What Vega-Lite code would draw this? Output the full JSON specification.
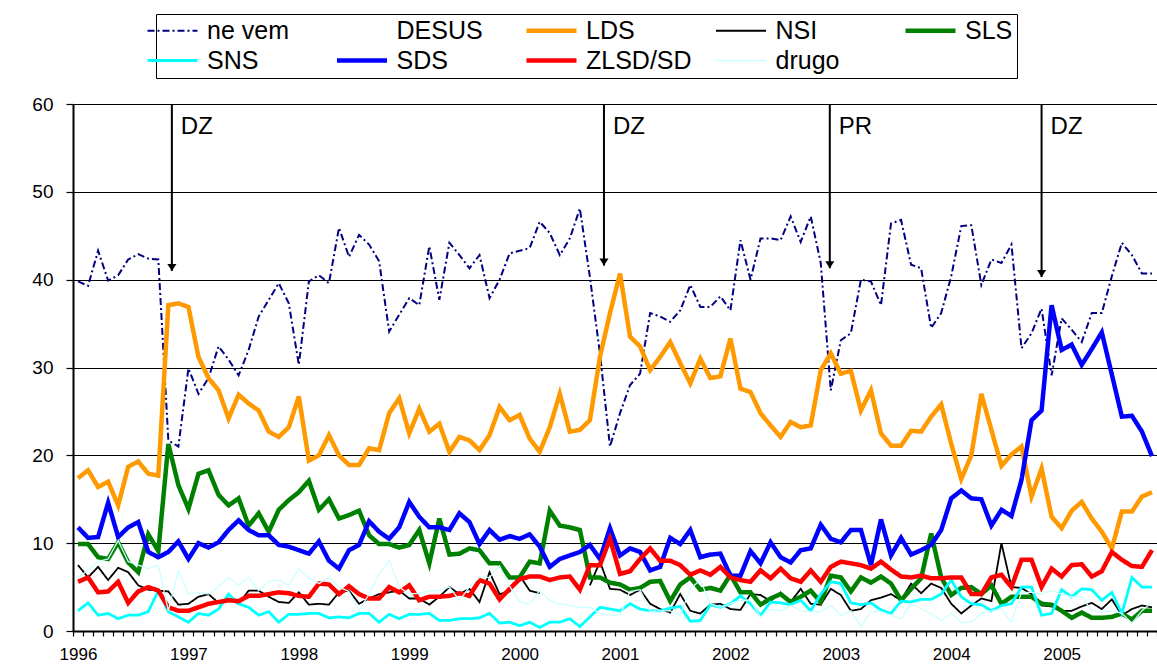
{
  "$schema": "https://vega.github.io/schema/vega-lite/v6.json",
  "width": 1084,
  "height": 527,
  "autosize": "none",
  "padding": {"left": 73, "top": 104, "right": 0, "bottom": 39},
  "background": "white",
  "config": {"font": "Liberation Sans", "view": {"stroke": null}},
  "datasets": {
    "polls": [
      {"i":0,"ne vem":39.8,"LDS":17.4,"NSI":7.5,"SLS":9.9,"SNS":2.3,"SDS":11.8,"ZLSD/SD":5.6,"drugo":6.1},
      {"i":1,"ne vem":39.3,"LDS":18.3,"NSI":6.1,"SLS":9.9,"SNS":3.2,"SDS":10.6,"ZLSD/SD":6.1,"drugo":6.9},
      {"i":2,"ne vem":43.3,"LDS":16.4,"NSI":7.3,"SLS":8.4,"SNS":1.8,"SDS":10.7,"ZLSD/SD":4.4,"drugo":7.9},
      {"i":3,"ne vem":39.9,"LDS":17.0,"NSI":5.8,"SLS":8.2,"SNS":2.0,"SDS":14.6,"ZLSD/SD":4.5,"drugo":8.2},
      {"i":4,"ne vem":40.5,"LDS":14.3,"NSI":7.2,"SLS":10.1,"SNS":1.4,"SDS":10.7,"ZLSD/SD":5.6,"drugo":10.3},
      {"i":5,"ne vem":42.3,"LDS":18.7,"NSI":6.7,"SLS":7.8,"SNS":1.8,"SDS":11.8,"ZLSD/SD":3.2,"drugo":7.9},
      {"i":6,"ne vem":42.9,"LDS":19.3,"NSI":5.2,"SLS":6.7,"SNS":1.8,"SDS":12.4,"ZLSD/SD":4.5,"drugo":7.5},
      {"i":7,"ne vem":42.4,"LDS":17.9,"NSI":4.7,"SLS":11.0,"SNS":2.2,"SDS":9.0,"ZLSD/SD":5.0,"drugo":7.1},
      {"i":8,"ne vem":42.3,"LDS":17.7,"NSI":4.6,"SLS":9.1,"SNS":4.6,"SDS":8.4,"ZLSD/SD":4.6,"drugo":7.5},
      {"i":9,"ne vem":21.7,"LDS":37.1,"NSI":4.5,"SLS":21.3,"SNS":2.2,"SDS":9.0,"ZLSD/SD":2.7,"drugo":2.3},
      {"i":10,"ne vem":21.0,"LDS":37.3,"NSI":3.0,"SLS":16.6,"SNS":1.6,"SDS":10.2,"ZLSD/SD":2.3,"drugo":6.9},
      {"i":11,"ne vem":29.9,"LDS":36.9,"NSI":3.1,"SLS":13.9,"SNS":1.0,"SDS":8.2,"ZLSD/SD":2.3,"drugo":4.2},
      {"i":12,"ne vem":27.0,"LDS":31.2,"NSI":3.9,"SLS":17.9,"SNS":2.0,"SDS":10.0,"ZLSD/SD":2.7,"drugo":4.4},
      {"i":13,"ne vem":28.8,"LDS":28.8,"NSI":4.2,"SLS":18.3,"SNS":1.8,"SDS":9.5,"ZLSD/SD":3.1,"drugo":4.2},
      {"i":14,"ne vem":32.4,"LDS":27.4,"NSI":3.2,"SLS":15.5,"SNS":2.5,"SDS":10.1,"ZLSD/SD":3.3,"drugo":5.0},
      {"i":15,"ne vem":30.9,"LDS":24.2,"NSI":3.7,"SLS":14.3,"SNS":4.2,"SDS":11.5,"ZLSD/SD":3.5,"drugo":6.1},
      {"i":16,"ne vem":29.1,"LDS":26.9,"NSI":3.1,"SLS":15.1,"SNS":3.1,"SDS":12.6,"ZLSD/SD":3.4,"drugo":5.2},
      {"i":17,"ne vem":32.0,"LDS":25.9,"NSI":4.6,"SLS":12.0,"SNS":2.7,"SDS":11.5,"ZLSD/SD":4.0,"drugo":6.1},
      {"i":18,"ne vem":35.8,"LDS":25.1,"NSI":4.6,"SLS":13.4,"SNS":1.8,"SDS":10.9,"ZLSD/SD":4.0,"drugo":4.6},
      {"i":19,"ne vem":37.7,"LDS":22.7,"NSI":3.9,"SLS":11.3,"SNS":2.2,"SDS":10.9,"ZLSD/SD":4.2,"drugo":5.6},
      {"i":20,"ne vem":39.6,"LDS":22.1,"NSI":3.3,"SLS":13.8,"SNS":1.0,"SDS":9.8,"ZLSD/SD":4.4,"drugo":5.8},
      {"i":21,"ne vem":37.3,"LDS":23.2,"NSI":3.2,"SLS":14.9,"SNS":1.9,"SDS":9.6,"ZLSD/SD":4.3,"drugo":5.2},
      {"i":22,"ne vem":30.3,"LDS":26.7,"NSI":4.4,"SLS":15.8,"SNS":1.9,"SDS":9.2,"ZLSD/SD":4.0,"drugo":7.1},
      {"i":23,"ne vem":39.8,"LDS":19.4,"NSI":3.0,"SLS":17.1,"SNS":2.0,"SDS":8.8,"ZLSD/SD":3.9,"drugo":6.0},
      {"i":24,"ne vem":40.5,"LDS":20.0,"NSI":3.1,"SLS":13.8,"SNS":2.0,"SDS":10.2,"ZLSD/SD":5.4,"drugo":5.4},
      {"i":25,"ne vem":39.6,"LDS":22.3,"NSI":3.0,"SLS":15.0,"SNS":1.5,"SDS":8.0,"ZLSD/SD":5.3,"drugo":6.1},
      {"i":26,"ne vem":45.9,"LDS":20.0,"NSI":4.4,"SLS":12.8,"SNS":1.6,"SDS":7.1,"ZLSD/SD":4.2,"drugo":5.0},
      {"i":27,"ne vem":42.6,"LDS":18.9,"NSI":4.6,"SLS":13.2,"SNS":1.5,"SDS":9.2,"ZLSD/SD":5.1,"drugo":4.5},
      {"i":28,"ne vem":45.1,"LDS":18.9,"NSI":3.1,"SLS":13.7,"SNS":2.0,"SDS":9.8,"ZLSD/SD":4.2,"drugo":2.3},
      {"i":29,"ne vem":44.0,"LDS":20.8,"NSI":3.7,"SLS":10.9,"SNS":2.0,"SDS":12.5,"ZLSD/SD":3.7,"drugo":4.2},
      {"i":30,"ne vem":42.1,"LDS":20.6,"NSI":4.2,"SLS":9.9,"SNS":1.0,"SDS":11.3,"ZLSD/SD":3.7,"drugo":6.5},
      {"i":31,"ne vem":34.1,"LDS":24.8,"NSI":4.4,"SLS":9.9,"SNS":1.9,"SDS":10.5,"ZLSD/SD":5.0,"drugo":8.0},
      {"i":32,"ne vem":36.0,"LDS":26.5,"NSI":4.6,"SLS":9.5,"SNS":1.4,"SDS":11.8,"ZLSD/SD":4.4,"drugo":5.0},
      {"i":33,"ne vem":37.9,"LDS":22.5,"NSI":3.7,"SLS":9.8,"SNS":1.9,"SDS":14.7,"ZLSD/SD":5.2,"drugo":4.2},
      {"i":34,"ne vem":37.1,"LDS":25.3,"NSI":3.7,"SLS":11.5,"SNS":1.9,"SDS":13.0,"ZLSD/SD":3.5,"drugo":4.3},
      {"i":35,"ne vem":43.8,"LDS":22.7,"NSI":3.0,"SLS":7.7,"SNS":2.0,"SDS":11.8,"ZLSD/SD":3.9,"drugo":4.6},
      {"i":36,"ne vem":37.7,"LDS":23.6,"NSI":3.9,"SLS":12.8,"SNS":1.2,"SDS":11.8,"ZLSD/SD":3.9,"drugo":4.6},
      {"i":37,"ne vem":44.2,"LDS":20.4,"NSI":5.0,"SLS":8.7,"SNS":1.2,"SDS":11.5,"ZLSD/SD":4.0,"drugo":5.0},
      {"i":38,"ne vem":42.8,"LDS":22.1,"NSI":4.2,"SLS":8.8,"SNS":1.4,"SDS":13.4,"ZLSD/SD":4.3,"drugo":3.5},
      {"i":39,"ne vem":41.3,"LDS":21.7,"NSI":4.8,"SLS":9.4,"SNS":1.4,"SDS":12.4,"ZLSD/SD":4.0,"drugo":5.0},
      {"i":40,"ne vem":42.8,"LDS":20.6,"NSI":3.3,"SLS":9.2,"SNS":1.5,"SDS":9.9,"ZLSD/SD":5.8,"drugo":6.1},
      {"i":41,"ne vem":37.9,"LDS":22.3,"NSI":6.7,"SLS":7.7,"SNS":2.0,"SDS":11.5,"ZLSD/SD":5.4,"drugo":6.1},
      {"i":42,"ne vem":40.0,"LDS":25.5,"NSI":4.2,"SLS":7.7,"SNS":0.9,"SDS":10.4,"ZLSD/SD":3.6,"drugo":7.4},
      {"i":43,"ne vem":43.0,"LDS":24.0,"NSI":4.5,"SLS":6.1,"SNS":1.0,"SDS":10.8,"ZLSD/SD":4.8,"drugo":5.1},
      {"i":44,"ne vem":43.3,"LDS":24.6,"NSI":6.3,"SLS":6.1,"SNS":0.6,"SDS":10.5,"ZLSD/SD":5.9,"drugo":3.3},
      {"i":45,"ne vem":43.6,"LDS":21.9,"NSI":4.6,"SLS":7.9,"SNS":1.0,"SDS":11.0,"ZLSD/SD":6.2,"drugo":3.1},
      {"i":46,"ne vem":46.6,"LDS":20.4,"NSI":4.3,"SLS":7.7,"SNS":0.4,"SDS":9.6,"ZLSD/SD":6.2,"drugo":4.6},
      {"i":47,"ne vem":45.3,"LDS":23.2,"NSI":null,"SLS":13.7,"SNS":1.0,"SDS":7.3,"ZLSD/SD":5.8,"drugo":3.5},
      {"i":48,"ne vem":42.8,"LDS":27.0,"NSI":null,"SLS":12.0,"SNS":1.0,"SDS":8.2,"ZLSD/SD":6.1,"drugo":3.1},
      {"i":49,"ne vem":44.7,"LDS":22.7,"NSI":null,"SLS":11.8,"SNS":1.4,"SDS":8.6,"ZLSD/SD":6.2,"drugo":2.9},
      {"i":50,"ne vem":48.1,"LDS":22.9,"NSI":null,"SLS":11.5,"SNS":0.5,"SDS":9.0,"ZLSD/SD":4.7,"drugo":2.7},
      {"i":51,"ne vem":40.3,"LDS":24.0,"NSI":5.2,"SLS":6.1,"SNS":1.6,"SDS":9.8,"ZLSD/SD":7.5,"drugo":2.7},
      {"i":52,"ne vem":31.6,"LDS":31.2,"NSI":7.9,"SLS":6.1,"SNS":2.7,"SDS":8.2,"ZLSD/SD":7.5,"drugo":2.0},
      {"i":53,"ne vem":21.0,"LDS":36.2,"NSI":4.8,"SLS":5.5,"SNS":2.5,"SDS":11.7,"ZLSD/SD":10.5,"drugo":1.8},
      {"i":54,"ne vem":24.8,"LDS":40.7,"NSI":4.7,"SLS":5.3,"SNS":2.3,"SDS":8.6,"ZLSD/SD":6.5,"drugo":1.8},
      {"i":55,"ne vem":28.0,"LDS":33.5,"NSI":4.1,"SLS":4.7,"SNS":3.1,"SDS":9.4,"ZLSD/SD":6.8,"drugo":4.5},
      {"i":56,"ne vem":29.3,"LDS":32.4,"NSI":4.7,"SLS":4.9,"SNS":2.5,"SDS":9.0,"ZLSD/SD":8.2,"drugo":4.7},
      {"i":57,"ne vem":36.2,"LDS":29.7,"NSI":3.1,"SLS":5.6,"SNS":2.3,"SDS":6.9,"ZLSD/SD":9.4,"drugo":2.2},
      {"i":58,"ne vem":35.8,"LDS":31.2,"NSI":2.5,"SLS":5.7,"SNS":2.3,"SDS":7.3,"ZLSD/SD":8.0,"drugo":2.3},
      {"i":59,"ne vem":35.2,"LDS":32.9,"NSI":2.1,"SLS":3.4,"SNS":2.6,"SDS":10.6,"ZLSD/SD":8.0,"drugo":2.3},
      {"i":60,"ne vem":36.5,"LDS":30.5,"NSI":4.2,"SLS":5.3,"SNS":2.8,"SDS":9.9,"ZLSD/SD":7.5,"drugo":1.8},
      {"i":61,"ne vem":39.4,"LDS":28.2,"NSI":2.3,"SLS":6.1,"SNS":1.1,"SDS":11.5,"ZLSD/SD":6.4,"drugo":4.8},
      {"i":62,"ne vem":36.9,"LDS":31.0,"NSI":2.0,"SLS":4.7,"SNS":1.2,"SDS":8.4,"ZLSD/SD":6.9,"drugo":5.8},
      {"i":63,"ne vem":36.9,"LDS":28.8,"NSI":3.0,"SLS":4.9,"SNS":3.0,"SDS":8.7,"ZLSD/SD":6.4,"drugo":3.1},
      {"i":64,"ne vem":38.1,"LDS":29.0,"NSI":3.1,"SLS":4.6,"SNS":2.7,"SDS":8.8,"ZLSD/SD":7.3,"drugo":2.7},
      {"i":65,"ne vem":36.5,"LDS":33.3,"NSI":2.5,"SLS":6.4,"SNS":3.1,"SDS":6.3,"ZLSD/SD":6.1,"drugo":3.1},
      {"i":66,"ne vem":44.5,"LDS":27.6,"NSI":2.4,"SLS":4.4,"SNS":4.0,"SDS":6.3,"ZLSD/SD":5.8,"drugo":3.5},
      {"i":67,"ne vem":40.0,"LDS":27.2,"NSI":4.2,"SLS":4.4,"SNS":3.1,"SDS":9.1,"ZLSD/SD":5.6,"drugo":3.5},
      {"i":68,"ne vem":44.7,"LDS":24.8,"NSI":4.1,"SLS":3.0,"SNS":1.8,"SDS":7.7,"ZLSD/SD":6.9,"drugo":1.6},
      {"i":69,"ne vem":44.7,"LDS":23.4,"NSI":3.4,"SLS":3.7,"SNS":3.3,"SDS":10.1,"ZLSD/SD":6.0,"drugo":2.5},
      {"i":70,"ne vem":44.5,"LDS":22.1,"NSI":4.4,"SLS":4.2,"SNS":3.2,"SDS":8.4,"ZLSD/SD":7.1,"drugo":2.3},
      {"i":71,"ne vem":47.2,"LDS":23.8,"NSI":3.3,"SLS":3.3,"SNS":3.0,"SDS":7.8,"ZLSD/SD":6.0,"drugo":2.9},
      {"i":72,"ne vem":44.3,"LDS":23.2,"NSI":4.8,"SLS":3.9,"SNS":3.5,"SDS":9.2,"ZLSD/SD":5.6,"drugo":2.3},
      {"i":73,"ne vem":47.2,"LDS":23.4,"NSI":3.1,"SLS":4.6,"SNS":2.3,"SDS":9.4,"ZLSD/SD":6.9,"drugo":2.2},
      {"i":74,"ne vem":41.9,"LDS":29.7,"NSI":3.0,"SLS":3.3,"SNS":4.2,"SDS":12.1,"ZLSD/SD":5.6,"drugo":2.2},
      {"i":75,"ne vem":27.4,"LDS":31.6,"NSI":4.8,"SLS":6.3,"SNS":5.6,"SDS":10.5,"ZLSD/SD":7.3,"drugo":2.9},
      {"i":76,"ne vem":33.1,"LDS":29.3,"NSI":4.1,"SLS":6.1,"SNS":5.4,"SDS":10.1,"ZLSD/SD":7.9,"drugo":1.8},
      {"i":77,"ne vem":33.9,"LDS":29.6,"NSI":2.3,"SLS":4.5,"SNS":3.2,"SDS":11.5,"ZLSD/SD":7.7,"drugo":2.3},
      {"i":78,"ne vem":40.0,"LDS":25.1,"NSI":2.5,"SLS":6.1,"SNS":3.0,"SDS":11.5,"ZLSD/SD":7.5,"drugo":0.5},
      {"i":79,"ne vem":39.8,"LDS":27.4,"NSI":3.5,"SLS":5.5,"SNS":3.2,"SDS":7.5,"ZLSD/SD":7.1,"drugo":2.2},
      {"i":80,"ne vem":37.1,"LDS":22.5,"NSI":3.8,"SLS":6.2,"SNS":2.4,"SDS":12.7,"ZLSD/SD":7.9,"drugo":2.2},
      {"i":81,"ne vem":46.4,"LDS":21.1,"NSI":4.2,"SLS":5.4,"SNS":2.0,"SDS":8.6,"ZLSD/SD":7.0,"drugo":1.8},
      {"i":82,"ne vem":46.8,"LDS":21.1,"NSI":3.5,"SLS":3.5,"SNS":3.4,"SDS":10.6,"ZLSD/SD":6.2,"drugo":1.4},
      {"i":83,"ne vem":41.7,"LDS":22.8,"NSI":5.4,"SLS":4.8,"SNS":3.3,"SDS":8.7,"ZLSD/SD":6.1,"drugo":3.1},
      {"i":84,"ne vem":41.3,"LDS":22.7,"NSI":4.3,"SLS":6.0,"SNS":3.6,"SDS":9.2,"ZLSD/SD":6.3,"drugo":2.5},
      {"i":85,"ne vem":34.5,"LDS":24.4,"NSI":5.4,"SLS":11.1,"SNS":3.6,"SDS":9.8,"ZLSD/SD":6.0,"drugo":2.0},
      {"i":86,"ne vem":36.2,"LDS":25.8,"NSI":4.9,"SLS":6.1,"SNS":4.2,"SDS":11.5,"ZLSD/SD":6.0,"drugo":1.2},
      {"i":87,"ne vem":40.4,"LDS":21.3,"NSI":3.1,"SLS":4.1,"SNS":5.8,"SDS":15.1,"ZLSD/SD":6.1,"drugo":2.0},
      {"i":88,"ne vem":46.1,"LDS":17.3,"NSI":2.0,"SLS":4.9,"SNS":3.9,"SDS":16.0,"ZLSD/SD":6.1,"drugo":1.0},
      {"i":89,"ne vem":46.2,"LDS":20.0,"NSI":2.9,"SLS":5.0,"SNS":3.1,"SDS":15.1,"ZLSD/SD":4.2,"drugo":1.0},
      {"i":90,"ne vem":39.4,"LDS":27.0,"NSI":3.7,"SLS":4.2,"SNS":3.0,"SDS":15.0,"ZLSD/SD":4.2,"drugo":2.0},
      {"i":91,"ne vem":42.3,"LDS":22.9,"NSI":3.4,"SLS":5.2,"SNS":2.3,"SDS":12.0,"ZLSD/SD":6.1,"drugo":2.3},
      {"i":92,"ne vem":41.9,"LDS":18.8,"NSI":10.0,"SLS":3.1,"SNS":2.9,"SDS":13.8,"ZLSD/SD":6.4,"drugo":2.5},
      {"i":93,"ne vem":44.0,"LDS":20.1,"NSI":5.0,"SLS":3.9,"SNS":3.1,"SDS":13.1,"ZLSD/SD":5.0,"drugo":1.0},
      {"i":94,"ne vem":32.2,"LDS":21.0,"NSI":4.9,"SLS":3.9,"SNS":5.0,"SDS":17.2,"ZLSD/SD":8.1,"drugo":4.4},
      {"i":95,"ne vem":33.9,"LDS":15.3,"NSI":4.2,"SLS":3.9,"SNS":5.0,"SDS":24.0,"ZLSD/SD":8.1,"drugo":4.4},
      {"i":96,"ne vem":36.7,"LDS":18.5,"NSI":2.9,"SLS":3.1,"SNS":1.8,"SDS":25.1,"ZLSD/SD":5.0,"drugo":4.2},
      {"i":97,"ne vem":29.1,"LDS":13.0,"NSI":2.8,"SLS":3.0,"SNS":2.0,"SDS":37.1,"ZLSD/SD":7.1,"drugo":4.6},
      {"i":98,"ne vem":35.6,"LDS":11.7,"NSI":2.3,"SLS":2.3,"SNS":4.7,"SDS":32.0,"ZLSD/SD":6.2,"drugo":4.2},
      {"i":99,"ne vem":34.3,"LDS":13.7,"NSI":2.3,"SLS":1.5,"SNS":3.9,"SDS":32.6,"ZLSD/SD":7.5,"drugo":3.9},
      {"i":100,"ne vem":32.9,"LDS":14.7,"NSI":2.8,"SLS":2.1,"SNS":4.8,"SDS":30.3,"ZLSD/SD":7.6,"drugo":3.9},
      {"i":101,"ne vem":36.2,"LDS":12.8,"NSI":3.2,"SLS":1.5,"SNS":4.7,"SDS":32.1,"ZLSD/SD":6.2,"drugo":2.3},
      {"i":102,"ne vem":36.2,"LDS":11.3,"NSI":2.5,"SLS":1.5,"SNS":3.5,"SDS":34.0,"ZLSD/SD":6.8,"drugo":2.1},
      {"i":103,"ne vem":40.4,"LDS":9.4,"NSI":3.6,"SLS":1.6,"SNS":4.4,"SDS":29.2,"ZLSD/SD":9.0,"drugo":2.3},
      {"i":104,"ne vem":44.2,"LDS":13.6,"NSI":1.8,"SLS":2.0,"SNS":2.0,"SDS":24.4,"ZLSD/SD":8.1,"drugo":2.0},
      {"i":105,"ne vem":42.8,"LDS":13.6,"NSI":2.5,"SLS":1.3,"SNS":6.1,"SDS":24.5,"ZLSD/SD":7.4,"drugo":0.9},
      {"i":106,"ne vem":40.7,"LDS":15.3,"NSI":2.9,"SLS":2.3,"SNS":5.0,"SDS":22.7,"ZLSD/SD":7.3,"drugo":2.3},
      {"i":107,"ne vem":40.7,"LDS":15.8,"NSI":2.7,"SLS":2.3,"SNS":5.0,"SDS":19.9,"ZLSD/SD":9.2,"drugo":3.3}
    ],
    "events": [
      {"a": 9.35, "tip": 41.0, "label": "DZ"},
      {"a": 52.4, "tip": 41.6, "label": "DZ"},
      {"a": 74.9, "tip": 41.3, "label": "PR"},
      {"a": 96.0, "tip": 40.3, "label": "DZ"}
    ]
  },
  "layer": [
    {
      "data": {"name": "polls"},
      "transform": [{"fold": ["ne vem", "LDS", "NSI", "SLS", "SNS", "SDS", "ZLSD/SD", "drugo"], "as": ["s", "v"]}],
      "mark": {
        "type": "line",
        "clip": true,
        "strokeWidth": {"expr": "indexof(['LDS','SLS','SDS','ZLSD/SD'], datum.s) >= 0 ? 4.5 : datum.s == 'SNS' ? 2.8 : datum.s == 'drugo' ? 1.3 : datum.s == 'NSI' ? 1.8 : 2"}
      },
      "encoding": {
        "x": {
          "field": "i", "type": "quantitative",
          "scale": {"domain": [-0.5, 107.5], "nice": false, "zero": false},
          "axis": {
            "title": null,
            "tickCount": 500,
            "values": [-0.5,0.5,1.5,2.5,3.5,4.5,5.5,6.5,7.5,8.5,9.5,10.5,11.5,12.5,13.5,14.5,15.5,16.5,17.5,18.5,19.5,20.5,21.5,22.5,23.5,24.5,25.5,26.5,27.5,28.5,29.5,30.5,31.5,32.5,33.5,34.5,35.5,36.5,37.5,38.5,39.5,40.5,41.5,42.5,43.5,44.5,45.5,46.5,47.5,48.5,49.5,50.5,51.5,52.5,53.5,54.5,55.5,56.5,57.5,58.5,59.5,60.5,61.5,62.5,63.5,64.5,65.5,66.5,67.5,68.5,69.5,70.5,71.5,72.5,73.5,74.5,75.5,76.5,77.5,78.5,79.5,80.5,81.5,82.5,83.5,84.5,85.5,86.5,87.5,88.5,89.5,90.5,91.5,92.5,93.5,94.5,95.5,96.5,97.5,98.5,99.5,100.5,101.5,102.5,103.5,104.5,105.5,106.5,107.5],
            "labelExpr": "indexof([0,11,22,33,44,54,65,76,87,98], datum.value + 0.5) >= 0 ? toString(1996 + indexof([0,11,22,33,44,54,65,76,87,98], datum.value + 0.5)) : ''",
            "labelOffset": 5,
            "labelOverlap": false,
            "labelBound": false,
            "labelFlush": false,
            "labelFontSize": 17,
            "labelColor": "black",
            "labelPadding": 10,
            "tickSize": 5,
            "tickColor": "black",
            "tickWidth": 1.2,
            "domainColor": "black",
            "domainWidth": 2,
            "grid": false
          }
        },
        "y": {
          "field": "v", "type": "quantitative",
          "scale": {"domain": [0, 60], "nice": false},
          "axis": {
            "title": null,
            "values": [0, 10, 20, 30, 40, 50, 60],
            "labelFontSize": 19,
            "labelColor": "black",
            "labelPadding": 13,
            "tickSize": 7,
            "tickColor": "black",
            "tickWidth": 1.2,
            "domainColor": "black",
            "domainWidth": 2,
            "grid": true,
            "gridColor": "black",
            "gridWidth": 1.2,
            "gridOpacity": 1
          }
        },
        "color": {
          "field": "s", "type": "nominal",
          "scale": {
            "domain": ["ne vem", "DESUS", "LDS", "NSI", "SLS", "SNS", "SDS", "ZLSD/SD", "drugo"],
            "range": ["#000080", "transparent", "#FF9900", "#000000", "#008000", "#00FFFF", "#0000FF", "#FF0000", "#CCFFFF"]
          },
          "legend": {
            "title": null,
            "orient": "none",
            "legendX": 83,
            "legendY": -90,
            "direction": "horizontal",
            "columns": 5,
            "gridAlign": "all",
            "columnPadding": 14.5,
            "rowPadding": 4,
            "symbolType": "M-2.5,0L2.5,0",
            "symbolSize": 400,
            "labelFontSize": 25,
            "labelColor": "black",
            "labelOffset": 22,
            "labelLimit": 300,
            "padding": 4,
            "strokeColor": "black",
            "fillColor": "white",
            "encode": {
              "symbols": {
                "update": {
                  "strokeWidth": {"signal": "indexof(['LDS','SLS','SDS','ZLSD/SD'], datum.value) >= 0 ? 4.5 : datum.value == 'SNS' ? 2.8 : datum.value == 'drugo' ? 1.3 : 2"}
                }
              }
            }
          }
        },
        "strokeDash": {
          "field": "s", "type": "nominal",
          "scale": {
            "domain": ["ne vem", "DESUS", "LDS", "NSI", "SLS", "SNS", "SDS", "ZLSD/SD", "drugo"],
            "range": [[7, 3, 2, 3], [1, 0], [1, 0], [1, 0], [1, 0], [1, 0], [1, 0], [1, 0], [1, 0]]
          }
        }
      }
    },
    {
      "data": {"name": "events"},
      "mark": {"type": "rule", "color": "black", "strokeWidth": 2},
      "encoding": {
        "x": {"field": "a", "type": "quantitative"},
        "y": {"field": "tip", "type": "quantitative"},
        "y2": {"datum": 60}
      }
    },
    {
      "data": {"name": "events"},
      "mark": {"type": "point", "shape": "M-0.65,-1L0.65,-1L0,0Z", "filled": true, "color": "black", "size": 196, "opacity": 1},
      "encoding": {
        "x": {"field": "a", "type": "quantitative"},
        "y": {"field": "tip", "type": "quantitative"}
      }
    },
    {
      "data": {"name": "events"},
      "mark": {"type": "text", "align": "left", "baseline": "middle", "dx": 9, "fontSize": 24, "color": "black"},
      "encoding": {
        "x": {"field": "a", "type": "quantitative"},
        "y": {"datum": 57.4, "type": "quantitative"},
        "text": {"field": "label", "type": "nominal"}
      }
    }
  ]
}
